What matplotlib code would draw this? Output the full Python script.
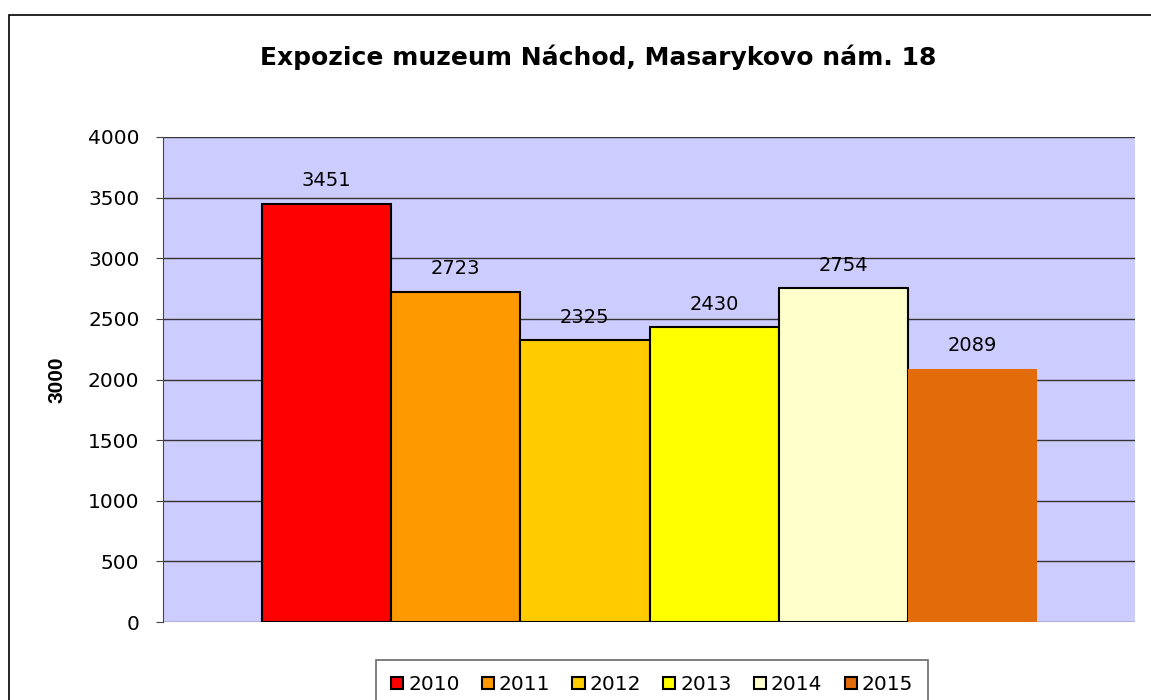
import matplotlib.pyplot as plt
from matplotlib.patches import Patch, Rectangle

years = ["2010", "2011", "2012", "2013", "2014", "2015"]
visitors = [3451, 2723, 2325, 2430, 2754, 2089]
colors = ["#FF0000", "#FF9900", "#FFCC00", "#FFFF00", "#FFFFCC", "#E36C0A"]
edges = ["black", "black", "black", "black", "black", "none"]
yticks = [0, 500, 1000, 1500, 2000, 2500, 3000, 3500, 4000]

plt.rcParams['font.family'] = ['DejaVu Sans']

fig = plt.figure(figsize=(11.51, 7), dpi=100)
# outer chart border (cut off on the right and bottom like the original)
fig.patches.append(Rectangle((9/1151, -0.1), 1.2, 1 - 15/700 + 0.1, transform=fig.transFigure,
                             fill=False, edgecolor="black", linewidth=1.2))

ax = fig.add_axes([163/1151, 1 - 622/700, (1135 - 163)/1151, (622 - 137)/700])
ax.set_facecolor("#CCCCFF")

x = range(len(years))
bars = ax.bar(x, visitors, width=1.0, color=colors, edgecolor=edges, linewidth=1.5, zorder=2)
for xi, v in zip(x, visitors):
    ax.text(xi, v + 110, str(v), ha="center", va="bottom", fontsize=14, zorder=3)

ax.set_ylim(0, 4000)
ax.set_xlim(-1.266, 6.258)
ax.set_yticks(yticks)
ax.tick_params(axis="y", labelsize=14.5, length=5, direction="out", color="#444444", pad=12)
ax.set_xticks([])
ax.yaxis.grid(True, color="#333333", linewidth=1)
ax.set_axisbelow(True)
for s in ["top", "right", "bottom"]:
    ax.spines[s].set_visible(False)
ax.spines["left"].set_color("#444444")

fig.text(57/1151, 1 - 380/700, "3000", rotation=90, ha="center", va="center",
         fontsize=15, fontweight="bold", family="Liberation Sans")

fig.text(598/1151, 1 - 57/700, "Expozice muzeum Náchod, Masarykovo nám. 18",
         ha="center", va="center", fontsize=18, fontweight="bold")

handles = [Patch(facecolor=c, edgecolor="black", linewidth=1.5) for c in colors]
leg = fig.legend(handles, years, loc="upper center", bbox_to_anchor=(652/1151, 1 - 660/700),
                 ncol=6, fontsize=14.5, frameon=True, fancybox=False, edgecolor="#444444",
                 handlelength=0.6, handleheight=0.6, handletextpad=0.25, columnspacing=1.1,
                 borderpad=0.75, borderaxespad=0)
leg.get_frame().set_linewidth(1.2)

fig.savefig("out.png", dpi=100)
